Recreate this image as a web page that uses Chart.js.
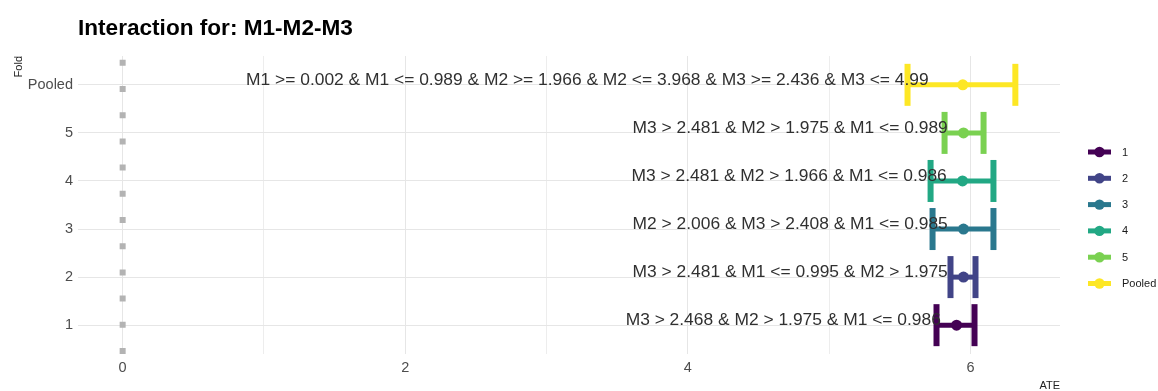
<!DOCTYPE html>
<html>
<head>
<meta charset="utf-8">
<title>Interaction for: M1-M2-M3</title>
<script src="https://cdn.jsdelivr.net/npm/chart.js@4/dist/chart.umd.min.js"></script>
<style>
  html, body { margin: 0; padding: 0; background: #ffffff; }
  #wrap { position: relative; width: 1158px; height: 391px; }
</style>
</head>
<body>
<div id="wrap"><canvas id="chart"></canvas></div>
<script>
// Folds, bottom to top
const folds = ['1', '2', '3', '4', '5', 'Pooled'];
// Average treatment effect per fold with its interval
const estimate = [5.902, 5.951, 5.951, 5.944, 5.951, 5.946];
const lower    = [5.760, 5.859, 5.732, 5.718, 5.817, 5.555];
const upper    = [6.029, 6.036, 6.163, 6.163, 6.093, 6.318];
// Rule found for each fold
const rules = [
  'M3 > 2.468 & M2 > 1.975 & M1 <= 0.986',
  'M3 > 2.481 & M1 <= 0.995 & M2 > 1.975',
  'M2 > 2.006 & M3 > 2.408 & M1 <= 0.985',
  'M3 > 2.481 & M2 > 1.966 & M1 <= 0.986',
  'M3 > 2.481 & M2 > 1.975 & M1 <= 0.989',
  'M1 >= 0.002 & M1 <= 0.989 & M2 >= 1.966 & M2 <= 3.968 & M3 >= 2.436 & M3 <= 4.99'
];
const xTickLabels = [0, 2, 4, 6];
const referenceAte = 0;

const foldColors = ['#440154', '#414487', '#2A788E', '#22A884', '#7AD151', '#FDE725'];
const FONT = "'Liberation Sans', Arial, Helvetica, sans-serif";
Chart.defaults.font.family = FONT;

const yMin = 0.4, yMax = folds.length + 0.6;
const xMin = -0.316, xMax = 6.634;

const datasets = [];
// dotted reference line at ATE = 0
datasets.push({
  type: 'line',
  data: [{ x: referenceAte, y: yMin }, { x: referenceAte, y: yMax }],
  borderColor: '#b3b3b3',
  borderWidth: 6,
  borderDash: [6, 20.2],
  pointRadius: 0,
  clip: false
});
folds.forEach((f, i) => {
  const y = i + 1;
  datasets.push({
    type: 'line',
    label: f,
    data: [{ x: lower[i], y }, { x: upper[i], y }],
    borderColor: foldColors[i],
    borderWidth: 5,
    pointStyle: 'line',
    pointRotation: 90,
    pointRadius: 21,
    pointBorderWidth: 6,
    pointBorderColor: foldColors[i],
    pointBackgroundColor: foldColors[i],
    clip: false
  });
  datasets.push({
    type: 'scatter',
    label: f + ' estimate',
    data: [{ x: estimate[i], y }],
    pointRadius: 5.5,
    pointBackgroundColor: foldColors[i],
    pointBorderWidth: 0,
    clip: false
  });
});

// rule text next to each interval, right-aligned a little left of the estimate
const ruleText = {
  id: 'ruleText',
  afterDatasetsDraw(chart) {
    const { ctx, scales: { x, y } } = chart;
    ctx.save();
    ctx.font = '17.4px ' + FONT;
    ctx.fillStyle = '#303030';
    ctx.textAlign = 'right';
    ctx.textBaseline = 'alphabetic';
    rules.forEach((r, i) => {
      const w = ctx.measureText(r).width;
      const px = x.getPixelForValue(estimate[i]) - 0.05 * w;
      const py = y.getPixelForValue(i + 1);
      ctx.fillText(r, px, py);
    });
    ctx.restore();
  }
};

// title, axis titles and legend
const decorations = {
  id: 'decorations',
  afterDraw(chart) {
    const { ctx, chartArea } = chart;
    ctx.save();
    ctx.fillStyle = '#000000';
    ctx.font = 'bold 22.6px ' + FONT;
    ctx.textAlign = 'left';
    ctx.textBaseline = 'alphabetic';
    ctx.fillText('Interaction for: M1-M2-M3', chartArea.left, 35);

    ctx.fillStyle = '#222222';
    ctx.font = '11px ' + FONT;
    ctx.textAlign = 'right';
    ctx.fillText('ATE', chartArea.right, 389);

    ctx.save();
    ctx.translate(22, chartArea.top);
    ctx.rotate(-Math.PI / 2);
    ctx.textAlign = 'right';
    ctx.textBaseline = 'alphabetic';
    ctx.fillText('Fold', 0, 0);
    ctx.restore();

    // legend
    const lx = 1088, top = 152, step = 26.3;
    folds.forEach((f, i) => {
      const ly = top + i * step;
      ctx.strokeStyle = foldColors[i];
      ctx.lineWidth = 5;
      ctx.lineCap = 'butt';
      ctx.beginPath();
      ctx.moveTo(lx, ly);
      ctx.lineTo(lx + 23, ly);
      ctx.stroke();
      ctx.fillStyle = foldColors[i];
      ctx.beginPath();
      ctx.arc(lx + 11.5, ly, 5.2, 0, Math.PI * 2);
      ctx.fill();
      ctx.fillStyle = '#1a1a1a';
      ctx.font = '11px ' + FONT;
      ctx.textAlign = 'left';
      ctx.textBaseline = 'middle';
      ctx.fillText(f, 1122, ly + 0.5);
    });
    ctx.restore();
  }
};

new Chart(document.getElementById('chart'), {
  type: 'scatter',
  data: { datasets },
  options: {
    responsive: true,
    maintainAspectRatio: false,
    animation: false,
    events: [],
    layout: { padding: { left: 0, top: 56, right: 98, bottom: 0 } },
    plugins: {
      legend: { display: false },
      title: { display: false },
      tooltip: { enabled: false }
    },
    scales: {
      x: {
        type: 'linear',
        min: xMin,
        max: xMax,
        border: { display: false },
        grid: {
          color: (c) => (c.tick && Math.abs(c.tick.value % 2) === 1) ? '#ededed' : '#e6e6e6',
          lineWidth: 1,
          drawTicks: false
        },
        ticks: {
          stepSize: 1,
          includeBounds: false,
          padding: 5,
          color: '#4d4d4d',
          font: { size: 14.5 },
          maxRotation: 0,
          autoSkip: false,
          callback: (v) => xTickLabels.includes(v) ? String(v) : ''
        },
        afterFit(scale) { scale.height = 37; }
      },
      y: {
        type: 'linear',
        min: yMin,
        max: yMax,
        border: { display: false },
        grid: { color: '#e6e6e6', lineWidth: 1, drawTicks: false },
        ticks: {
          stepSize: 1,
          includeBounds: false,
          padding: 5,
          color: '#4d4d4d',
          font: { size: 14.5 },
          autoSkip: false,
          callback: (v) => folds[v - 1] !== undefined ? folds[v - 1] : ''
        },
        afterFit(scale) { scale.width = 78; }
      }
    }
  },
  plugins: [ruleText, decorations]
});
</script>
</body>
</html>
